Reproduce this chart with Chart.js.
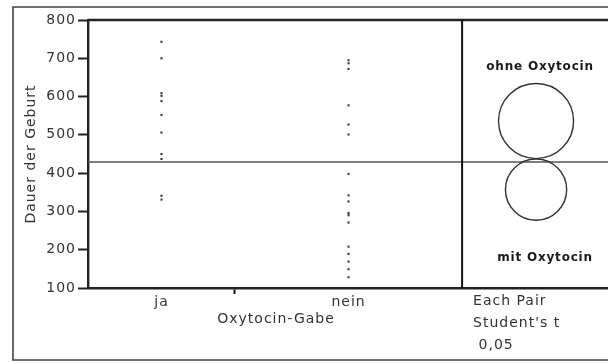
<!DOCTYPE html>
<html>
<head>
<meta charset="utf-8">
<script src="https://cdn.jsdelivr.net/npm/chart.js@4.4.1/dist/chart.umd.min.js"></script>
<style>
  html, body { margin: 0; padding: 0; background: #fff; overflow: hidden; }
  #wrap { position: relative; width: 612px; height: 363px; }
</style>
</head>
<body>
<div id="wrap"><canvas id="chart"></canvas></div>
<script>
// Dauer der Geburt, grouped by Oxytocin-Gabe
const groups = ['ja', 'nein'];
const dauerJa = [743, 700, 609, 602, 588, 552, 506, 450, 437, 341, 331];
const dauerNein = [695, 687, 672, 577, 527, 501, 398, 342, 326, 296, 290, 271, 208, 189, 169, 149, 128];
const yTicks = [100, 200, 300, 400, 500, 600, 700, 800];
const grandMean = 429;

// comparison circles (Each Pair, Student's t, alpha 0,05)
const circleLabels = ['ohne Oxytocin', 'mit Oxytocin'];
const circleMeans = [536, 357];
const circleRadii = [98, 80];
const testLines = ['Each Pair', "Student's t", ' 0,05'];

const groupValues = [dauerJa, dauerNein];
const counts = groupValues.map(g => g.length);
const nTotal = counts[0] + counts[1];
const groupStart = [0, counts[0]];
const groupCenter = groupStart.map((s, i) => s + counts[i] / 2);
// extra x units to the right of the groups that hold the circle panel
const panelUnits = nTotal * 0.39;
const xMax = nTotal + panelUnits;

const datasets = groupValues.map((vals, i) => ({
  label: groups[i],
  data: vals.map(v => ({ x: groupCenter[i], y: v })),
  pointStyle: 'rect',
  pointRadius: 1.5,
  pointBackgroundColor: '#3a3a3a',
  pointBorderWidth: 0,
  showLine: false
}));

Chart.defaults.font.family = '"DejaVu Sans", sans-serif';
Chart.defaults.color = '#333';

const overlay = {
  id: 'overlay',
  beforeDraw(chart) {
    // slightly open tracking for all text on the canvas
    chart.ctx.letterSpacing = '1px';
  },
  beforeDatasetsDraw(chart) {
    const { ctx, chartArea: a, scales: { y } } = chart;
    ctx.save();
    // grand mean line
    const gy = y.getPixelForValue(grandMean);
    ctx.strokeStyle = '#555';
    ctx.lineWidth = 1.6;
    ctx.beginPath();
    ctx.moveTo(a.left, gy);
    ctx.lineTo(a.right, gy);
    ctx.stroke();
    ctx.restore();
  },
  afterDraw(chart) {
    const { ctx, chartArea: a, scales: { x, y } } = chart;
    const W = chart.width;
    ctx.save();
    // outer frame
    ctx.strokeStyle = '#444';
    ctx.lineWidth = 1.6;
    ctx.beginPath();
    ctx.moveTo(W, 7);
    ctx.lineTo(13, 7);
    ctx.lineTo(13, 360);
    ctx.lineTo(W, 360);
    ctx.stroke();
    // top edge of the plot frame
    ctx.strokeStyle = '#222';
    ctx.lineWidth = 2.4;
    ctx.beginPath();
    ctx.moveTo(a.left, a.top);
    ctx.lineTo(a.right, a.top);
    ctx.stroke();
    // divider between groups and circle panel
    const dx = x.getPixelForValue(nTotal);
    ctx.strokeStyle = '#111';
    ctx.lineWidth = 2;
    ctx.beginPath();
    ctx.moveTo(dx, a.top);
    ctx.lineTo(dx, a.bottom);
    ctx.stroke();
    // comparison circles
    const cx = x.getPixelForValue(nTotal + panelUnits / 2) + 1;
    ctx.strokeStyle = '#333';
    ctx.lineWidth = 1.4;
    circleMeans.forEach((m, i) => {
      const cy = y.getPixelForValue(m);
      const r = Math.abs(y.getPixelForValue(m + circleRadii[i]) - cy);
      ctx.beginPath();
      ctx.arc(cx, cy, r, 0, Math.PI * 2);
      ctx.stroke();
    });
    // circle labels
    ctx.letterSpacing = '0.8px';
    ctx.fillStyle = '#1a1a1a';
    ctx.font = 'bold 12px "DejaVu Sans", sans-serif';
    ctx.textAlign = 'center';
    ctx.textBaseline = 'middle';
    ctx.fillText(circleLabels[0], cx + 4, a.top + 47);
    ctx.fillText(circleLabels[1], cx + 9, a.bottom - 30);
    // test description below the panel
    ctx.letterSpacing = '1px';
    ctx.font = '14px "DejaVu Sans", sans-serif';
    ctx.fillStyle = '#333';
    ctx.textAlign = 'left';
    testLines.forEach((t, i) => ctx.fillText(t, dx + 11, a.bottom + 13 + i * 22));
    // x axis title, centred under the groups
    ctx.textAlign = 'center';
    ctx.fillText('Oxytocin-Gabe', (a.left + dx) / 2 + 1, a.bottom + 31);
    ctx.restore();
  }
};

new Chart(document.getElementById('chart'), {
  type: 'scatter',
  data: { datasets },
  options: {
    responsive: true,
    maintainAspectRatio: false,
    animation: false,
    events: [],
    layout: { padding: { left: 0, top: 20, right: 0, bottom: 0 } },
    plugins: { legend: { display: false }, tooltip: { enabled: false } },
    scales: {
      x: {
        type: 'linear',
        min: 0,
        max: xMax,
        afterFit(s) { s.height = 75; },
        afterBuildTicks(s) {
          s.ticks = [
            { value: groupCenter[0] },
            { value: counts[0] },
            { value: groupCenter[1] }
          ];
        },
        border: { color: '#222', width: 2.4 },
        grid: {
          drawOnChartArea: false,
          tickLength: 6,
          tickWidth: 2,
          tickColor: c => (c.tick && c.tick.value === counts[0]) ? '#111' : 'rgba(0,0,0,0)'
        },
        ticks: {
          autoSkip: false,
          maxRotation: 0,
          padding: 0,
          color: '#333',
          font: { size: 14 },
          callback: v => v === groupCenter[0] ? groups[0] : v === groupCenter[1] ? groups[1] : ''
        }
      },
      y: {
        min: 100,
        max: 800,
        afterFit(s) { s.width = 88; },
        afterBuildTicks(s) { s.ticks = yTicks.map(v => ({ value: v })); },
        border: { color: '#222', width: 2.4 },
        grid: { drawOnChartArea: false, tickLength: 10, tickWidth: 2, tickColor: '#222' },
        ticks: { color: '#333', padding: 2, font: { size: 14 } },
        title: {
          display: true,
          text: 'Dauer der Geburt',
          color: '#333',
          font: { size: 14 },
          padding: { top: 23, bottom: 0 }
        }
      }
    }
  },
  plugins: [overlay]
});
</script>
</body>
</html>
